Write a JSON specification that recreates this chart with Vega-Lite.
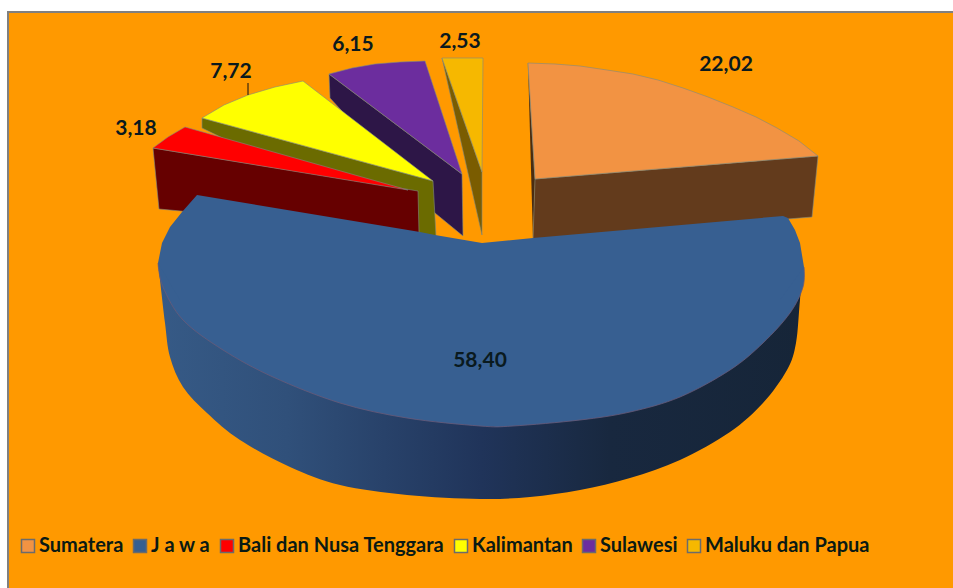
{
"$schema":"https://vega.github.io/schema/vega-lite/v6.json",
"width":947,"height":578,"autosize":"none",
"padding":{"left":8,"top":12,"right":0,"bottom":0},
"background":"white",
"config":{"view":{"fill":"#FF9900","stroke":"#808080","strokeWidth":2}},
"datasets":{
"back":[
{"face":"Sumatera side","seq":1,"x":535,"y":179},{"face":"Sumatera side","seq":2,"x":818,"y":156},{"face":"Sumatera side","seq":3,"x":812,"y":217},{"face":"Sumatera side","seq":4,"x":533,"y":240},
{"face":"Sumatera edge","seq":1,"x":528,"y":63},{"face":"Sumatera edge","seq":2,"x":535,"y":179},{"face":"Sumatera edge","seq":3,"x":533,"y":240},
{"face":"Sumatera","seq":1,"x":528,"y":63},{"face":"Sumatera","seq":2,"x":555,"y":64},{"face":"Sumatera","seq":3,"x":580,"y":66},{"face":"Sumatera","seq":4,"x":607,"y":70},{"face":"Sumatera","seq":5,"x":633,"y":74},{"face":"Sumatera","seq":6,"x":658,"y":80},{"face":"Sumatera","seq":7,"x":683,"y":88},{"face":"Sumatera","seq":8,"x":708,"y":97},{"face":"Sumatera","seq":9,"x":733,"y":107},{"face":"Sumatera","seq":10,"x":756,"y":117},{"face":"Sumatera","seq":11,"x":777,"y":128},{"face":"Sumatera","seq":12,"x":799,"y":141},{"face":"Sumatera","seq":13,"x":818,"y":156},{"face":"Sumatera","seq":14,"x":535,"y":179},{"face":"Sumatera","seq":15,"x":528,"y":63},
{"face":"Maluku side","seq":1,"x":442,"y":58},{"face":"Maluku side","seq":2,"x":482,"y":172},{"face":"Maluku side","seq":3,"x":482,"y":235},{"face":"Maluku side","seq":4,"x":442,"y":58},
{"face":"Maluku dan Papua","seq":1,"x":442,"y":58},{"face":"Maluku dan Papua","seq":2,"x":483,"y":58},{"face":"Maluku dan Papua","seq":3,"x":482,"y":172},{"face":"Maluku dan Papua","seq":4,"x":442,"y":58},
{"face":"Sulawesi side","seq":1,"x":329,"y":74},{"face":"Sulawesi side","seq":2,"x":462,"y":174},{"face":"Sulawesi side","seq":3,"x":463,"y":236},{"face":"Sulawesi side","seq":4,"x":435,"y":213},{"face":"Sulawesi side","seq":5,"x":330,"y":98},{"face":"Sulawesi side","seq":6,"x":329,"y":74},
{"face":"Sulawesi","seq":1,"x":329,"y":74},{"face":"Sulawesi","seq":2,"x":352,"y":68},{"face":"Sulawesi","seq":3,"x":375,"y":64},{"face":"Sulawesi","seq":4,"x":400,"y":62},{"face":"Sulawesi","seq":5,"x":425,"y":61},{"face":"Sulawesi","seq":6,"x":462,"y":174},{"face":"Sulawesi","seq":7,"x":329,"y":74},
{"face":"Kalimantan side","seq":1,"x":202,"y":118},{"face":"Kalimantan side","seq":2,"x":433,"y":181},{"face":"Kalimantan side","seq":3,"x":436,"y":236},{"face":"Kalimantan side","seq":4,"x":418,"y":233},{"face":"Kalimantan side","seq":5,"x":202,"y":128},{"face":"Kalimantan side","seq":6,"x":202,"y":118},
{"face":"Kalimantan","seq":1,"x":202,"y":118},{"face":"Kalimantan","seq":2,"x":224,"y":105},{"face":"Kalimantan","seq":3,"x":248,"y":95},{"face":"Kalimantan","seq":4,"x":275,"y":87},{"face":"Kalimantan","seq":5,"x":303,"y":81},{"face":"Kalimantan","seq":6,"x":433,"y":181},{"face":"Kalimantan","seq":7,"x":202,"y":118},
{"face":"Bali side","seq":1,"x":153,"y":148},{"face":"Bali side","seq":2,"x":418,"y":191},{"face":"Bali side","seq":3,"x":419,"y":233},{"face":"Bali side","seq":4,"x":159,"y":209},{"face":"Bali side","seq":5,"x":153,"y":148},
{"face":"Bali dan Nusa Tenggara","seq":1,"x":153,"y":148},{"face":"Bali dan Nusa Tenggara","seq":2,"x":168,"y":137},{"face":"Bali dan Nusa Tenggara","seq":3,"x":185,"y":127},{"face":"Bali dan Nusa Tenggara","seq":4,"x":408,"y":190},{"face":"Bali dan Nusa Tenggara","seq":5,"x":153,"y":148}
],
"javaSide":[
{"seq":1,"x":158,"y":263},{"seq":2,"x":160,"y":280},{"seq":3,"x":165,"y":323},{"seq":4,"x":170,"y":357},{"seq":5,"x":183,"y":387},{"seq":6,"x":207,"y":413},{"seq":7,"x":240,"y":440},{"seq":8,"x":290,"y":467},{"seq":9,"x":340,"y":485},{"seq":10,"x":407,"y":495},{"seq":11,"x":480,"y":499},{"seq":12,"x":530,"y":497},{"seq":13,"x":580,"y":490},{"seq":14,"x":630,"y":478},{"seq":15,"x":680,"y":460},{"seq":16,"x":730,"y":432},{"seq":17,"x":763,"y":403},{"seq":18,"x":787,"y":370},{"seq":19,"x":796,"y":343},{"seq":20,"x":800,"y":300},{"seq":21,"x":804,"y":267}
],
"javaUpper":[
{"face":"J a w a","seq":1,"x":197,"y":195},{"face":"J a w a","seq":2,"x":420,"y":232},{"face":"J a w a","seq":3,"x":435,"y":235},{"face":"J a w a","seq":4,"x":482,"y":243},{"face":"J a w a","seq":5,"x":533,"y":238},{"face":"J a w a","seq":6,"x":783,"y":216},{"face":"J a w a","seq":7,"x":788,"y":218},{"face":"J a w a","seq":8,"x":795,"y":230},{"face":"J a w a","seq":9,"x":800,"y":243},{"face":"J a w a","seq":10,"x":804,"y":267},{"face":"J a w a","seq":11,"x":780,"y":300},{"face":"J a w a","seq":12,"x":180,"y":300},{"face":"J a w a","seq":13,"x":158,"y":263},{"face":"J a w a","seq":14,"x":162,"y":243},{"face":"J a w a","seq":15,"x":170,"y":227},{"face":"J a w a","seq":16,"x":182,"y":212},{"face":"J a w a","seq":17,"x":197,"y":195}
],
"javaLower":[
{"face":"J a w a","seq":1,"x":804,"y":267},{"face":"J a w a","seq":2,"x":803,"y":287},{"face":"J a w a","seq":3,"x":790,"y":313},{"face":"J a w a","seq":4,"x":763,"y":343},{"face":"J a w a","seq":5,"x":730,"y":370},{"face":"J a w a","seq":6,"x":680,"y":397},{"face":"J a w a","seq":7,"x":630,"y":412},{"face":"J a w a","seq":8,"x":580,"y":420},{"face":"J a w a","seq":9,"x":513,"y":426},{"face":"J a w a","seq":10,"x":480,"y":426},{"face":"J a w a","seq":11,"x":407,"y":418},{"face":"J a w a","seq":12,"x":340,"y":403},{"face":"J a w a","seq":13,"x":273,"y":377},{"face":"J a w a","seq":14,"x":223,"y":350},{"face":"J a w a","seq":15,"x":183,"y":320},{"face":"J a w a","seq":16,"x":163,"y":287},{"face":"J a w a","seq":17,"x":158,"y":263}
],
"labels":[
{"region":"Sumatera","value":"22,02","x":726,"y":65},
{"region":"J a w a","value":"58,40","x":480,"y":361},
{"region":"Bali dan Nusa Tenggara","value":"3,18","x":136,"y":129},
{"region":"Kalimantan","value":"7,72","x":231,"y":72},
{"region":"Sulawesi","value":"6,15","x":353,"y":45},
{"region":"Maluku dan Papua","value":"2,53","x":460,"y":42}
]
},
"encoding":{
"x":{"field":"x","type":"quantitative","axis":null,"scale":{"domain":[8,955]}},
"y":{"field":"y","type":"quantitative","axis":null,"scale":{"domain":[590,12]}}
},
"layer":[
{"data":{"name":"back"},
 "mark":{"type":"line","filled":true,"stroke":"#7F8A80","strokeWidth":0.6,"interpolate":"linear"},
 "encoding":{"order":{"field":"seq","type":"quantitative"},
 "color":{"field":"face","type":"nominal","sort":null,
  "scale":{"domain":["Sumatera","J a w a","Bali dan Nusa Tenggara","Kalimantan","Sulawesi","Maluku dan Papua","Sumatera side","Sumatera edge","Maluku side","Sulawesi side","Kalimantan side","Bali side"],
  "range":["#F29343","#375F91","#FF0000","#FFFF00","#6C2D9E","#F6B800","#633B1C","#4A2C10","#7A5C00","#2D1647","#6B6B00","#660000"]},
  "legend":{"title":null,"orient":"none","legendX":10,"legendY":524,"direction":"horizontal","columns":6,
   "values":["Sumatera","J a w a","Bali dan Nusa Tenggara","Kalimantan","Sulawesi","Maluku dan Papua"],
   "symbolType":"square","symbolSize":169,"symbolStrokeColor":"#6B6B6B","symbolStrokeWidth":1.5,
   "labelFont":"Lato","labelFontWeight":"bold","labelFontSize":20,"labelColor":"#0A1A14","labelOffset":1,"columnPadding":6,"labelLimit":300}}}},
{"data":{"name":"javaSide"},
 "mark":{"type":"line","filled":true,"interpolate":"cardinal",
  "fill":{"gradient":"linear","x1":0,"y1":0,"x2":1,"y2":0,"stops":[{"offset":0,"color":"#365A86"},{"offset":0.2,"color":"#30507A"},{"offset":0.5,"color":"#20345A"},{"offset":0.7,"color":"#18283F"},{"offset":1,"color":"#162538"}]}},
 "encoding":{"order":{"field":"seq","type":"quantitative"}}},
{"data":{"name":"javaLower"},
 "mark":{"type":"line","filled":true,"interpolate":"cardinal"},
 "encoding":{"order":{"field":"seq","type":"quantitative"},"color":{"field":"face","type":"nominal"}}},
{"data":{"name":"javaUpper"},
 "mark":{"type":"line","filled":true,"interpolate":"linear"},
 "encoding":{"order":{"field":"seq","type":"quantitative"},"color":{"field":"face","type":"nominal"}}},
{"data":{"name":"javaLower"},
 "mark":{"type":"line","color":"#6A5A78","strokeWidth":0.8,"interpolate":"cardinal"},
 "encoding":{"order":{"field":"seq","type":"quantitative"}}},
{"data":{"values":[{"x":248,"y":83,"y2":95}]},
 "mark":{"type":"rule","color":"#111111","strokeWidth":1},
 "encoding":{"y2":{"field":"y2"}}},
{"data":{"name":"labels"},
 "mark":{"type":"text","font":"Lato","fontWeight":"bold","fontSize":21,"color":"#0A1A1E","align":"center","baseline":"middle"},
 "encoding":{"text":{"field":"value","type":"nominal"}}}
]
}
